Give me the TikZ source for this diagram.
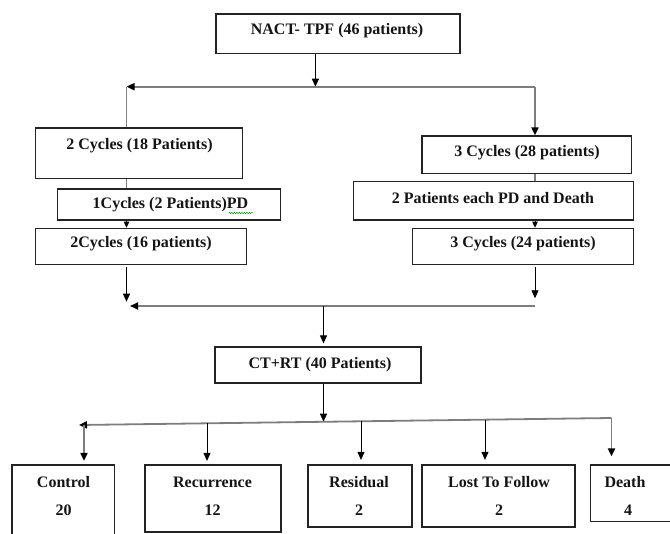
\documentclass[tikz,border=0pt]{standalone}
\usepackage{fontspec}
\setmainfont{Liberation Serif}
\usetikzlibrary{arrows.meta,decorations.pathmorphing}
\definecolor{conn}{RGB}{125,125,125}
\definecolor{boxline}{RGB}{35,35,35}
\begin{document}
\begin{tikzpicture}[x=1pt,y=-1pt,
  box/.style={draw=boxline, line width=1.2pt, inner sep=0pt, rectangle},
  txt/.style={font=\fontsize{16}{18}\selectfont\bfseries, inner sep=0pt, text=black!92},
  gline/.style={draw=conn, line width=1.8pt},
  bline/.style={draw=black, line width=0.9pt},
  tip/.style={-{Triangle[length=8pt,width=7pt,black]}},
  smalltip/.style={-{Triangle[length=6pt,width=5.5pt,black]}},
]
\useasboundingbox (0,0) rectangle (670,534);

% boxes
\node[box, minimum width=244pt, minimum height=39.3pt] (nact) at (338,33.65) {};
\node[box, minimum width=207.2pt, minimum height=50.3pt] (c2a) at (139.1,153.15) {};
\node[box, minimum width=209.6pt, minimum height=37.3pt] (c3a) at (526.8,154.65) {};
\node[box, minimum width=223.1pt, minimum height=31pt] (c1pd) at (169.25,204.5) {};
\node[box, minimum width=279.9pt, minimum height=38.3pt] (pd2) at (493.35,200.85) {};
\node[box, minimum width=211.1pt, minimum height=36pt] (c2b) at (141.05,246.3) {};
\node[box, minimum width=220.9pt, minimum height=36pt] (c3b) at (522.85,246.3) {};
\node[box, minimum width=206pt, minimum height=36pt] (ct) at (318,365) {};
\node[box, minimum width=102.5pt, minimum height=80pt] (ctrl) at (63.25,505) {};
\node[box, minimum width=136pt, minimum height=67pt] (rec) at (213,498.5) {};
\node[box, minimum width=104pt, minimum height=62pt] (res) at (360,496) {};
\node[box, minimum width=153pt, minimum height=62pt] (lost) at (498.5,496) {};
\node[box, minimum width=81.4pt, minimum height=56.7pt] (death) at (631.3,493.35) {};

% texts
\node[txt] (tnact) at (337,31) {NACT- TPF (46 patients)};
\node[txt] (tc2a) at (139.5,145.7) {2 Cycles (18 Patients)};
\node[txt] (tc3a) at (527,153) {3 Cycles (28 patients)};
\node[txt] (tc1pd) at (170.5,205) {1Cycles (2 Patients)PD};
\node[txt] (tpd2) at (493,198.3) {2 Patients each PD and Death};
\node[txt] (tc2b) at (141,243.3) {2Cycles (16 patients)};
\node[txt] (tc3b) at (523,243.3) {3 Cycles (24 patients)};
\node[txt] (tct) at (320,365) {CT+RT (40 Patients)};
\node[txt] (tctrl) at (63.5,482) {Control};
\node[txt] (nctrl) at (63.5,510) {20};
\node[txt] (trec) at (212.5,482) {Recurrence};
\node[txt] (nrec) at (212.5,510) {12};
\node[txt] (tres) at (359,482) {Residual};
\node[txt] (nres) at (359,510) {2};
\node[txt] (tlost) at (499,482) {Lost To Follow};
\node[txt] (nlost) at (499,510) {2};
\node[txt] (tdeath) at (625,482) {Death};
\node[txt] (ndeath) at (628,510) {4};

% spell-check squiggle
\draw[green!55!black, line width=0.5pt, decorate, decoration={snake, amplitude=0.7pt, segment length=2.5pt}] (228.6,213) -- (253.4,213);

% coordinates
\coordinate (s1) at (315.4,86.7);
\coordinate (L1) at (126.5,86.7);
\coordinate (R1) at (535,86.7);
\coordinate (a2) at (126.5,301.7);
\coordinate (b2) at (535,298.3);
\coordinate (L2) at (130,306);
\coordinate (R2) at (535,306);
\coordinate (m2) at (323.5,306);
\coordinate (m3) at (323.5,421.7);
\coordinate (L3) at (79,425);
\coordinate (R3) at (611.5,418);
\coordinate (d1) at (84,424.9);
\coordinate (d2) at (207,423.3);
\coordinate (d3) at (361,421.3);
\coordinate (d4) at (485,419.7);

% connectors
\draw[bline,tip] (nact.south -| s1) -- (s1);
\draw[gline,tip] (R1) -- (L1);
\draw[gline] (L1) -- (c2a.north -| L1);
\draw[gline,tip] (R1) -- (c3a.north -| R1);
\draw[gline] (c2a.south -| L1) -- (c1pd.north -| L1);
\draw[bline,smalltip] (c1pd.south -| L1) -- (c2b.north -| L1);
\draw[gline] (c3a.south -| R1) -- (pd2.north -| R1);
\draw[bline,smalltip] (pd2.south -| R1) -- (c3b.north -| R1);
\draw[bline,tip] ([yshift=-2pt]c2b.south -| a2) -- (a2);
\draw[bline,tip] ([yshift=-2pt]c3b.south -| b2) -- (b2);
\draw[gline,tip] (R2) -- (L2);
\draw[bline,tip,shorten >=3pt] (m2) -- (ct.north -| m2);
\draw[bline,tip] (ct.south -| m3) -- (m3);
\draw[gline,tip] (R3) -- (L3);
\draw[gline,tip,shorten >=3.5pt] (d1) -- (ctrl.north -| d1);
\draw[bline,tip,shorten >=3.5pt] (d2) -- (rec.north -| d2);
\draw[bline,tip,shorten >=4.5pt] (d3) -- (res.north -| d3);
\draw[bline,tip,shorten >=4.5pt] (d4) -- (lost.north -| d4);
\draw[gline,tip,shorten >=8pt] (R3) -- (death.north -| R3);
\end{tikzpicture}
\end{document}
